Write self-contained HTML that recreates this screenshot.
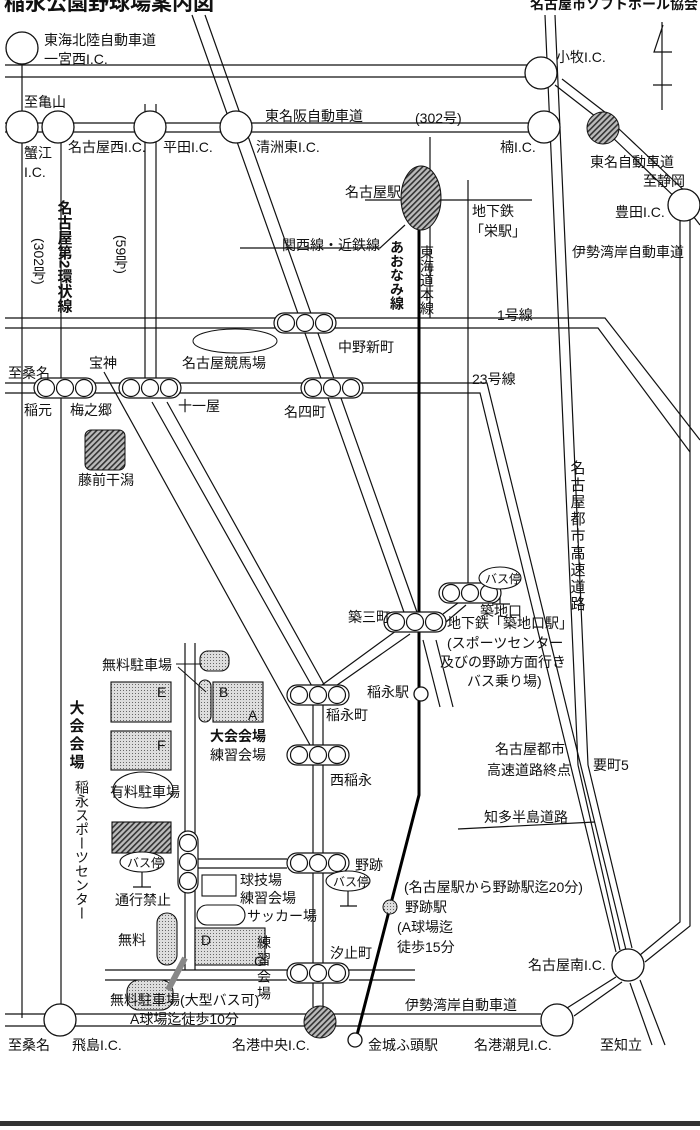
<!DOCTYPE html>
<html><head><meta charset="utf-8"><style>
html,body{margin:0;padding:0;background:#fff;}
svg{display:block;}
text{font-family:"Liberation Sans","Noto Sans CJK JP",sans-serif;font-size:14px;fill:#111;}
.b{font-weight:bold;}
</style></head><body>
<svg width="700" height="1130" viewBox="0 0 700 1130" xmlns="http://www.w3.org/2000/svg">
<defs>
<pattern id="dot" width="3" height="3" patternUnits="userSpaceOnUse"><rect width="3" height="3" fill="#ddd"/><rect width="1" height="1" fill="#666"/></pattern>
<pattern id="hat" width="4" height="4" patternUnits="userSpaceOnUse" patternTransform="rotate(45)"><rect width="4" height="4" fill="#bbb"/><rect width="1.6" height="4" fill="#333"/></pattern>
<g id="sig3"><rect x="-31" y="-10" width="62" height="20" rx="10" fill="#fff" stroke="#111" stroke-width="1.2"/><circle cx="-19" cy="0" r="8.5" fill="#fff" stroke="#111" stroke-width="1.2"/><circle cx="0" cy="0" r="8.5" fill="#fff" stroke="#111" stroke-width="1.2"/><circle cx="19" cy="0" r="8.5" fill="#fff" stroke="#111" stroke-width="1.2"/></g>
</defs>
<g stroke="#111" stroke-width="1.2" fill="none">
<path d="M5 65H527M5 77H527"/>
<path d="M5 123H530M5 132H530"/>
<path d="M22 64V1018M61 141V1005"/>
<path d="M145 141V383M156 141V383M145 104V112M156 104V112"/>
<path d="M192 15L405 615M205 15L418 615"/>
<path d="M423 640L440 707M436 640L453 707"/>
<path d="M545 15L578 765M555 15L588 765M578 765L620 950M588 765L632 948"/>
<path d="M680 220V922L640 955M690 220V926L645 962"/>
<path d="M555 85L600 120M562 79L606 113M611 136L683 205M618 128L690 196M690 212L700 225"/>
<path d="M5 318H605L700 440M5 328H598L690 452"/>
<path d="M5 383H487L626 950M5 393H480L616 952"/>
<path d="M152 402L313 688M167 402L326 688"/>
<path d="M104 372L310 745"/>
<path d="M400 628L322 685M410 634L330 690M443 614L462 600M446 622L466 605"/>
<path d="M313 705V745M323 705V745M313 765V853M323 765V853M313 873V963M323 873V963M313 983V1007M323 983V1007"/>
<path d="M197 859H287M197 868H287"/>
<path d="M185 643V838M195 643V838M185 887V970M195 887V970"/>
<path d="M105 970H287M105 980H287M349 970H415M349 980H415"/>
<path d="M5 1014H541M5 1026H541M567 1008L616 977M574 1016L622 982M640 980L665 1045M630 983L652 1045"/>
<path d="M430 137V318M468 180V590M365 200H532M240 248H380L405 225"/>
<path d="M458 829L595 822"/>
<path d="M500 589V604M492 604H510M142 872V887M133 887H151M348 891V906M340 906H357"/>
<path d="M663 25L654 52H672M653 85H672M662 22V110"/>
</g>
<path d="M419 230V795L357 1035" stroke="#000" stroke-width="3" fill="none"/>
<g fill="#fff" stroke="#111" stroke-width="1.3">
<circle cx="22" cy="48" r="16"/><circle cx="22" cy="127" r="16"/><circle cx="58" cy="127" r="16"/>
<circle cx="150" cy="127" r="16"/><circle cx="236" cy="127" r="16"/><circle cx="541" cy="73" r="16"/>
<circle cx="544" cy="127" r="16"/><circle cx="684" cy="205" r="16"/><circle cx="628" cy="965" r="16"/>
<circle cx="60" cy="1020" r="16"/><circle cx="557" cy="1020" r="16"/>
<circle cx="421" cy="694" r="7"/><circle cx="355" cy="1040" r="7"/>
</g>
<circle cx="603" cy="128" r="16" fill="url(#hat)" stroke="#111"/>
<circle cx="320" cy="1022" r="16" fill="url(#hat)" stroke="#111"/>
<circle cx="390" cy="907" r="7" fill="url(#dot)" stroke="#111"/>
<ellipse cx="421" cy="198" rx="20" ry="32" fill="url(#hat)" stroke="#111"/>
<ellipse cx="235" cy="341" rx="42" ry="12" fill="#fff" stroke="#111"/>
<rect x="85" y="430" width="40" height="40" rx="6" fill="url(#hat)" stroke="#111"/>
<use href="#sig3" x="305" y="323"/><use href="#sig3" x="65" y="388"/><use href="#sig3" x="150" y="388"/><use href="#sig3" x="332" y="388"/>
<use href="#sig3" x="470" y="593"/><use href="#sig3" x="415" y="622"/><use href="#sig3" x="318" y="695"/><use href="#sig3" x="318" y="755"/>
<use href="#sig3" x="318" y="863"/><use href="#sig3" x="318" y="973"/>
<g transform="translate(188,862) rotate(90)"><use href="#sig3"/></g>
<g stroke="#111" stroke-width="1.1">
<rect x="200" y="651" width="29" height="20" rx="8" fill="url(#dot)"/>
<rect x="199" y="680" width="12" height="42" rx="6" fill="url(#dot)"/>
<rect x="213" y="682" width="50" height="40" fill="url(#dot)"/>
<rect x="111" y="682" width="60" height="40" fill="url(#dot)"/>
<rect x="111" y="731" width="60" height="39" fill="url(#dot)"/>
<ellipse cx="143" cy="790" rx="30" ry="18" fill="#fff"/>
<rect x="112" y="822" width="59" height="31" fill="url(#hat)"/>
<ellipse cx="142" cy="862" rx="22" ry="10" fill="#fff"/>
<rect x="202" y="875" width="34" height="21" fill="#fff"/>
<rect x="197" y="905" width="48" height="20" rx="10" fill="#fff"/>
<rect x="195" y="928" width="70" height="37" fill="url(#dot)"/>
<rect x="157" y="913" width="20" height="52" rx="10" fill="url(#dot)"/>
<rect x="127" y="980" width="46" height="30" rx="12" fill="url(#dot)"/>
<ellipse cx="348" cy="881" rx="22" ry="10" fill="#fff"/>
<ellipse cx="500" cy="578" rx="21" ry="11" fill="#fff"/>
</g>
<path d="M185 958L168 990" stroke="#888" stroke-width="6"/>
<path d="M176 664H202M178 667L206 692" stroke="#111" stroke-width="1"/>
<rect x="0" y="1121" width="700" height="5" fill="#333"/>
<text x="4" y="10" class="b" style="font-size:21px">稲永公園野球場案内図</text>
<text x="530" y="9" style="font-size:14px" class="b">名古屋市ソフトボール協会</text>
<text x="44" y="45">東海北陸自動車道</text><text x="44" y="64">一宮西I.C.</text>
<text x="24" y="107">至亀山</text><text x="24" y="158">蟹江</text><text x="24" y="177">I.C.</text>
<text x="68" y="152">名古屋西I.C.</text><text x="163" y="152">平田I.C.</text><text x="256" y="152">清洲東I.C.</text>
<text x="265" y="121">東名阪自動車道</text><text x="415" y="123">(302号)</text>
<text x="556" y="62">小牧I.C.</text><text x="500" y="152">楠I.C.</text><text x="590" y="167">東名自動車道</text>
<text x="643" y="186">至静岡</text><text x="615" y="217">豊田I.C.</text><text x="572" y="257">伊勢湾岸自動車道</text>
<text x="345" y="197">名古屋駅</text><text x="472" y="216">地下鉄</text><text x="470" y="236">「栄駅」</text>
<text x="282" y="250">関西線・近鉄線</text>
<text x="397" y="240" class="b" style="writing-mode:vertical-rl;font-size:14px">あおなみ線</text>
<text x="427" y="245" style="writing-mode:vertical-rl">東海道本線</text>
<text x="39" y="238" style="writing-mode:vertical-rl">(302号)</text>
<text x="64" y="200" class="b" style="writing-mode:vertical-rl;font-size:15px">名古屋第2環状線</text>
<text x="121" y="235" style="writing-mode:vertical-rl">(59号)</text>
<text x="497" y="320">1号線</text><text x="338" y="352">中野新町</text><text x="472" y="384">23号線</text>
<text x="182" y="368">名古屋競馬場</text><text x="89" y="368">宝神</text><text x="8" y="378">至桑名</text>
<text x="24" y="415">稲元</text><text x="70" y="415">梅之郷</text><text x="178" y="411">十一屋</text><text x="284" y="417">名四町</text>
<text x="78" y="485">藤前干潟</text>
<text x="577" y="460" style="writing-mode:vertical-rl;font-size:15px;letter-spacing:2px">名古屋都市高速道路</text>
<text x="348" y="622">築三町</text><text x="480" y="616">築地口</text>
<text x="447" y="628">地下鉄「築地口駅」</text><text x="447" y="648">(スポーツセンター</text>
<text x="440" y="667">及びの野跡方面行き</text><text x="467" y="686">バス乗り場)</text>
<text x="485" y="583" style="font-size:12px">バス停</text>
<text x="367" y="697">稲永駅</text><text x="326" y="720">稲永町</text><text x="330" y="785">西稲永</text>
<text x="495" y="754">名古屋都市</text><text x="487" y="775">高速道路終点</text><text x="593" y="770">要町5</text>
<text x="484" y="822">知多半島道路</text>
<text x="355" y="870">野跡</text><text x="333" y="886" style="font-size:12px">バス停</text>
<text x="404" y="892">(名古屋駅から野跡駅迄20分)</text><text x="405" y="912">野跡駅</text>
<text x="397" y="932">(A球場迄</text><text x="397" y="952">徒歩15分</text>
<text x="330" y="958">汐止町</text><text x="528" y="970">名古屋南I.C.</text>
<text x="405" y="1010">伊勢湾岸自動車道</text>
<text x="102" y="670">無料駐車場</text>
<text x="76" y="700" class="b" style="writing-mode:vertical-rl;font-size:15px;letter-spacing:3px">大会会場</text>
<text x="210" y="741" class="b">大会会場</text><text x="210" y="760">練習会場</text>
<text x="82" y="780" style="writing-mode:vertical-rl">稲永スポーツセンター</text>
<text x="110" y="797">有料駐車場</text>
<text x="127" y="867" style="font-size:12px">バス停</text>
<text x="115" y="905">通行禁止</text>
<text x="240" y="885">球技場</text><text x="240" y="903">練習会場</text><text x="247" y="921">サッカー場</text>
<text x="118" y="945">無料</text>
<text x="264" y="935" style="writing-mode:vertical-rl;letter-spacing:3px">練習会場</text>
<text x="110" y="1005">無料駐車場(大型バス可)</text><text x="130" y="1024">A球場迄徒歩10分</text>
<text x="157" y="697">E</text><text x="219" y="697">B</text><text x="248" y="720">A</text><text x="157" y="750">F</text>
<text x="201" y="945">D</text><text x="254" y="966">C</text>
<text x="8" y="1050">至桑名</text><text x="72" y="1050">飛島I.C.</text><text x="232" y="1050">名港中央I.C.</text>
<text x="368" y="1050">金城ふ頭駅</text><text x="474" y="1050">名港潮見I.C.</text><text x="600" y="1050">至知立</text>
</svg>
</body></html>
